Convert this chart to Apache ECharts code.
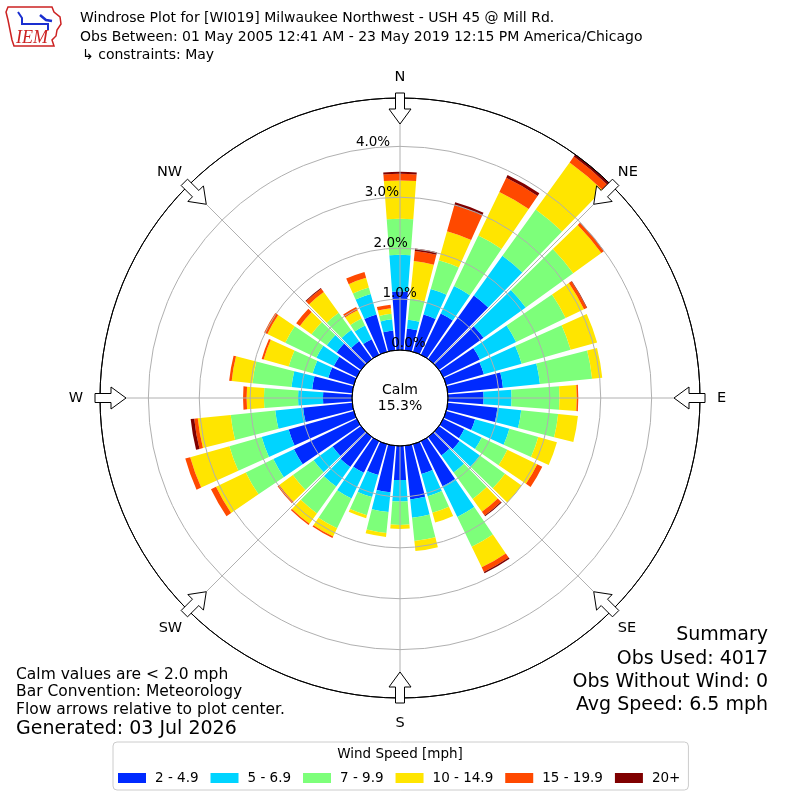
<!DOCTYPE html>
<html>
<head>
<meta charset="utf-8">
<script src="https://cdn.jsdelivr.net/npm/echarts@6/dist/echarts.min.js"></script>
<style>
html,body{margin:0;padding:0;background:#fff;}
#chart{width:800px;height:800px;}
</style>
</head>
<body>
<div id="chart"></div>
<script>
// Direction bins (degrees, meteorological, bar centres)
const directions = [0,10,20,30,40,50,60,70,80,90,100,110,120,130,140,150,160,170,
                    180,190,200,210,220,230,240,250,260,270,280,290,300,310,320,330,340,350];
const speedBins = ['2 - 4.9','5 - 6.9','7 - 9.9','10 - 14.9','15 - 19.9','20+'];
const binColors = ['#002aff','#00d4ff','#7dff7a','#ffe500','#ff4900','#7f0000'];

// Percent frequency per speed bin (stacked), one value per direction
const speed2to5   = [1.15,0.43,0.76,0.90,1.54,1.08,0.80,0.77,1.09,0.70,0.98,0.59,0.46,0.50,0.45,0.98,0.61,1.06,
                     0.67,0.92,0.63,0.69,0.73,0.69,1.37,1.33,0.97,0.57,0.79,0.52,0.50,0.59,0.43,0.34,0.76,0.39];
const speed5to7   = [0.72,0.17,0.52,0.60,0.96,1.02,0.79,0.77,0.73,0.55,0.47,0.70,0.38,0.49,0.41,0.67,0.45,0.36,
                     0.42,0.39,0.45,0.56,0.47,0.46,0.45,0.55,0.55,0.49,0.41,0.32,0.38,0.24,0.27,0.30,0.42,0.22];
const speed7to10  = [0.71,0.42,0.59,1.10,1.12,1.15,1.08,1.00,1.03,0.94,0.73,0.59,0.56,0.61,0.64,0.65,0.34,0.46,
                     0.46,0.41,0.37,0.65,0.65,0.50,0.60,0.66,0.88,0.67,0.77,0.49,0.68,0.37,0.42,0.15,0.13,0.11];
const speed10to15 = [0.75,0.74,0.59,0.95,1.14,0.68,0.40,0.54,0.20,0.34,0.39,0.38,0.65,0.40,0.31,0.45,0.20,0.20,
                     0.08,0.08,0.06,0.18,0.25,0.33,0.65,0.80,0.65,0.34,0.41,0.51,0.39,0.28,0.50,0.18,0.20,0.11];
const speed15to20 = [0.13,0.20,0.53,0.31,0.14,0.06,0.06,0.00,0.00,0.03,0.00,0.00,0.11,0.00,0.09,0.10,0.00,0.00,
                     0.00,0.00,0.00,0.03,0.03,0.04,0.11,0.10,0.07,0.07,0.05,0.04,0.07,0.09,0.08,0.07,0.12,0.07];
const speed20plus = [0.04,0.05,0.06,0.06,0.05,0.01,0.01,0.00,0.00,0.00,0.00,0.00,0.00,0.00,0.02,0.03,0.00,0.00,
                     0.00,0.00,0.00,0.00,0.00,0.00,0.00,0.00,0.07,0.00,0.00,0.00,0.00,0.00,0.02,0.00,0.00,0.00];
const binValues = [speed2to5, speed5to7, speed7to10, speed10to15, speed15to20, speed20plus];

const radialTicks = [0,1,2,3,4];
const radialMax = 4.95;
const compassNames = ['N','NE','E','SE','S','SW','W','NW'];
const compassAngles = [0,45,90,135,180,225,270,315];

const titleLines = [
  'Windrose Plot for [WI019] Milwaukee Northwest - USH 45 @ Mill Rd.',
  'Obs Between: 01 May 2005 12:41 AM - 23 May 2019 12:15 PM America/Chicago',
  '\u21b3 constraints: May'
];
const noteLines = ['Calm values are < 2.0 mph','Bar Convention: Meteorology','Flow arrows relative to plot center.'];
const generatedText = 'Generated: 03 Jul 2026';
const summaryLines = ['Summary','Obs Used: 4017','Obs Without Wind: 0','Avg Speed: 6.5 mph'];
const calmText = 'Calm\n15.3%';

const CX = 400, CY = 398, R0 = 48, R1 = 300;
const FONT = 'DejaVu Sans';

const chart = echarts.init(document.getElementById('chart'), null, {renderer:'canvas'});

// Flow arrows (decorations) at the outer ring pointing to centre
function arrowPoints(deg){
  const t = deg*Math.PI/180, s = Math.sin(t), c = Math.cos(t);
  const pts = [[-4.5,305],[4.5,305],[4.5,289],[11,289],[0,274],[-11,289],[-4.5,289]];
  return pts.map(([u,r]) => [CX + r*s + u*c, CY - r*c + u*s]);
}
const graphics = [];
compassAngles.forEach(a => graphics.push({
  type:'polygon', z:100, shape:{points:arrowPoints(a)},
  style:{fill:'#ffffff', stroke:'#000000', lineWidth:1}
}));
graphics.push({type:'text', z:100, x:CX, y:CY, style:{text:calmText, fontSize:14, fontFamily:FONT,
  fill:'#000', textAlign:'center', textVerticalAlign:'middle', lineHeight:16}});
const titleY = [18,37,55];
titleLines.forEach((t,i) => graphics.push({type:'text', z:100, x:(i===2?82:80), y:titleY[i],
  style:{text:t, fontSize:14, fontFamily:FONT, fill:'#000', textAlign:'left', textVerticalAlign:'middle'}}));
const noteY = [675,692,710];
noteLines.forEach((t,i) => graphics.push({type:'text', z:100, x:16, y:noteY[i],
  style:{text:t, fontSize:15.5, fontFamily:FONT, fill:'#000', textAlign:'left', textVerticalAlign:'middle'}}));
graphics.push({type:'text', z:100, x:16, y:729, style:{text:generatedText, fontSize:19, fontFamily:FONT,
  fill:'#000', textAlign:'left', textVerticalAlign:'middle'}});
const sumY = [635,659,682,705];
summaryLines.forEach((t,i) => graphics.push({type:'text', z:100, x:768, y:sumY[i],
  style:{text:t, fontSize:19, fontFamily:FONT, fill:'#000', textAlign:'right', textVerticalAlign:'middle'}}));
graphics.push({type:'text', z:100, x:400, y:754, style:{text:'Wind Speed [mph]', fontSize:13.5, fontFamily:FONT,
  fill:'#000', textAlign:'center', textVerticalAlign:'middle'}});
// IEM logo (approximation)
graphics.push({type:'polygon', z:100, shape:{points:[[8,7],[52,7],[54,12],[60,17],[61,24],[57,30],[56,36],[52,40],[54,46],[14,46],[12,40],[10,30],[8,20],[6,12]]},
  style:{fill:'none', stroke:'#cc2222', lineWidth:1.5}});
graphics.push({type:'polyline', z:100, shape:{points:[[18,12],[22,18],[22,24],[48,24],[48,30]]}, style:{stroke:'#1a2fd0', lineWidth:2, fill:'none'}});
graphics.push({type:'polyline', z:100, shape:{points:[[40,15],[46,20],[52,21]]}, style:{stroke:'#1a2fd0', lineWidth:2.5, fill:'none'}});
graphics.push({type:'text', z:100, x:32, y:38, style:{text:'IEM', fontSize:18, fontFamily:'Liberation Serif', fontStyle:'italic',
  fill:'#cc2222', textAlign:'center', textVerticalAlign:'middle'}});

// per-direction label padding keys (cardinal labels sit a little further out)
const labelStyleKey = {N:'n', S:'s', E:'e', W:'w', NE:'d', NW:'d', SE:'b', SW:'b'};

const option = {
  backgroundColor:'#ffffff',
  animation:false,
  polar:[
    {center:[CX,CY], radius:[R0,R1]},
    {center:[CX,CY], radius:[R0,R1]},
    {center:[CX,CY], radius:[R0,R1]}
  ],
  angleAxis:[
    {polarIndex:0, type:'category', data:directions, startAngle:95, clockwise:true, show:false},
    {polarIndex:1, type:'value', min:0, max:360, interval:45, startAngle:90, clockwise:true, z:10,
      axisLine:{show:true, lineStyle:{color:'#000', width:1}},
      axisTick:{show:false},
      axisLabel:{show:true, margin:8, fontSize:14.5, fontFamily:FONT, color:'#000',
        formatter:v => { const i = compassAngles.indexOf(v);
          if (v >= 360 || i < 0) return '';
          const n = compassNames[i]; return '{' + labelStyleKey[n] + '|' + n + '}'; },
        rich:{
          n:{fontSize:14.5, fontFamily:FONT, color:'#000', padding:[0,0,5,0]},
          s:{fontSize:14.5, fontFamily:FONT, color:'#000', padding:[10,0,0,0]},
          e:{fontSize:14.5, fontFamily:FONT, color:'#000', padding:[0,0,0,9]},
          w:{fontSize:14.5, fontFamily:FONT, color:'#000', padding:[0,9,0,0]},
          d:{fontSize:14.5, fontFamily:FONT, color:'#000'},
          b:{fontSize:14.5, fontFamily:FONT, color:'#000', padding:[5,0,0,0]}
        }},
      splitLine:{show:true, lineStyle:{color:'#b0b0b0', width:1}}},
    {polarIndex:2, type:'value', min:0, max:360, startAngle:100, clockwise:true, show:false}
  ],
  radiusAxis:[
    {polarIndex:0, type:'value', min:0, max:radialMax, show:false},
    {polarIndex:1, type:'value', min:0, max:radialMax, interval:1, z:10,
      axisLine:{show:false}, axisTick:{show:false}, axisLabel:{show:false},
      splitLine:{show:true, lineStyle:{color:['#000000','#b0b0b0','#b0b0b0','#b0b0b0','#b0b0b0','#000000'], width:1}}},
    {polarIndex:2, type:'value', min:0, max:radialMax, interval:1, z:11,
      axisLine:{show:false}, axisTick:{show:false}, splitLine:{show:false},
      axisLabel:{show:true, margin:-17, align:'center', verticalAlign:'bottom', lineHeight:9, fontSize:13.5, fontFamily:FONT, color:'#000',
        formatter:v => radialTicks.indexOf(v) >= 0 ? v.toFixed(1)+'%' : ''}}
  ],
  legend:{
    left:113, top:742, orient:'horizontal', selectedMode:false, icon:'rect',
    itemWidth:28, itemHeight:10, itemGap:12, padding:[29,8,5,5],
    borderColor:'#cccccc', borderWidth:1, borderRadius:4, backgroundColor:'#ffffff',
    textStyle:{fontSize:13.5, fontFamily:FONT, color:'#000', padding:[0,0,0,4]},
    data:speedBins
  },
  graphic:graphics,
  series: speedBins.map((name,i) => ({
    type:'bar', name:name, coordinateSystem:'polar', polarIndex:0, stack:'wind',
    data:binValues[i], barCategoryGap:'15%', silent:true,
    itemStyle:{color:binColors[i]}
  }))
};
chart.setOption(option);
</script>
</body>
</html>
